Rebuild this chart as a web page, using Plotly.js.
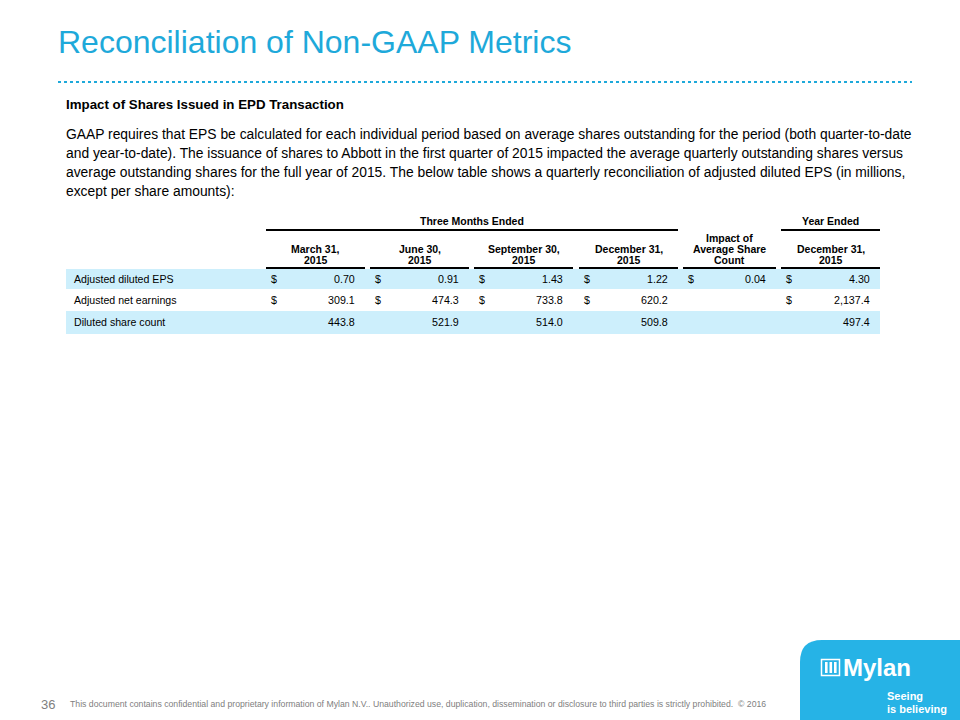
<!DOCTYPE html>
<html>
<head>
<meta charset="utf-8">
<script src="https://cdn.plot.ly/plotly-3.0.1.min.js"></script>
<style>
  html, body { margin: 0; padding: 0; background: #ffffff; }
  #chart { width: 960px; height: 720px; }
</style>
</head>
<body>
<div id="chart"></div>
<script>
// ---------------- DATA ----------------
const slideTitle = "Reconciliation of Non-GAAP Metrics";
const sectionHeading = "Impact of Shares Issued in EPD Transaction";
const paragraphLines = [
  "GAAP requires that EPS be calculated for each individual period based on average shares outstanding for the period (both quarter-to-date",
  "and year-to-date). The issuance of shares to Abbott in the first quarter of 2015 impacted the average quarterly outstanding shares versus",
  "average outstanding shares for the full year of 2015. The below table shows a quarterly reconciliation of adjusted diluted EPS (in millions,",
  "except per share amounts):"
];
const groupHeaders = ["Three Months Ended", "Year Ended"];
const columnHeaders = [
  ["March 31,", "2015"],
  ["June 30,", "2015"],
  ["September 30,", "2015"],
  ["December 31,", "2015"],
  ["Impact of", "Average Share", "Count"],
  ["December 31,", "2015"]
];
const rowLabels = ["Adjusted diluted EPS", "Adjusted net earnings", "Diluted share count"];
const adjustedDilutedEPS   = [0.70, 0.91, 1.43, 1.22, 0.04, 4.30];
const adjustedNetEarnings  = [309.1, 474.3, 733.8, 620.2, null, 2137.4];
const dilutedShareCount    = [443.8, 521.9, 514.0, 509.8, null, 497.4];
const rowDecimals = [2, 1, 1];
const rowHasDollar = [true, true, false];
const pageNumber = "36";
const disclaimer = "This document contains confidential and proprietary information of Mylan N.V.. Unauthorized use, duplication, dissemination or disclosure to third parties is strictly prohibited.  © 2016";
const logoName = "Mylan";
const logoTagline = ["Seeing", "is believing"];

// ---------------- LAYOUT CONSTANTS ----------------
const BLUE = "#1ea9da";
const BAND = "#cdeffc";
const FONT = "Liberation Sans, Arial, sans-serif";
const colLeft  = [266, 370, 474, 579, 683, 781];
const colRight = [365, 469, 573, 678, 776, 880];
const groupSpan = [[0, 3], [5, 5]];
const rowY = [279, 300, 322];
const rowBand = [[269, 289], null, [311, 334]];
const tableLeft = 66, tableRight = 880;

const rows = [adjustedDilutedEPS, adjustedNetEarnings, dilutedShareCount];

function fmt(v, d) {
  return v.toLocaleString("en-US", { minimumFractionDigits: d, maximumFractionDigits: d });
}

const annotations = [];
const shapes = [];

function txt(x, y, text, opts) {
  annotations.push(Object.assign({
    xref: "x", yref: "y", x: x, y: y, text: text, showarrow: false,
    xanchor: "left", yanchor: "middle",
    font: { family: FONT, size: 11, color: "#000" }
  }, opts));
}

// Title
txt(56, 42, slideTitle, { font: { family: FONT, size: 32, color: BLUE } });
// dotted rule
shapes.push({ type: "line", xref: "x", yref: "y", x0: 58, x1: 912, y0: 82, y1: 82,
  line: { color: BLUE, width: 2, dash: "dot" } });

// Heading + paragraph
txt(64, 104, "<b>" + sectionHeading + "</b>", { font: { family: FONT, size: 13.3, color: "#000" } });
paragraphLines.forEach((l, i) => {
  txt(64, 134 + i * 19, l, { font: { family: FONT, size: 13.85, color: "#000" } });
});

// Group headers
groupHeaders.forEach((g, i) => {
  const a = colLeft[groupSpan[i][0]], b = colRight[groupSpan[i][1]];
  txt((a + b) / 2, 221, "<b>" + g + "</b>", { xanchor: "center", font: { family: FONT, size: 10.5, color: "#000" } });
  shapes.push({ type: "line", xref: "x", yref: "y", x0: a, x1: b, y0: 230, y1: 230,
    line: { color: "#000", width: 2 } });
});

// Column headers
columnHeaders.forEach((lines, c) => {
  const cx = (colLeft[c] + colRight[c]) / 2;
  const n = lines.length;
  lines.forEach((l, k) => {
    txt(cx, 260 - (n - 1 - k) * 11, "<b>" + l + "</b>", { xanchor: "center", font: { family: FONT, size: 10.5, color: "#000" } });
  });
  shapes.push({ type: "line", xref: "x", yref: "y", x0: colLeft[c], x1: colRight[c], y0: 268, y1: 268,
    line: { color: "#000", width: 2 } });
});

// Row bands
rowBand.forEach(b => {
  if (!b) return;
  shapes.push({ type: "rect", xref: "x", yref: "y", x0: tableLeft, x1: tableRight, y0: b[0], y1: b[1],
    fillcolor: BAND, line: { width: 0 }, layer: "below" });
});

// Rows
rowLabels.forEach((lab, r) => {
  txt(72, rowY[r], lab, { font: { family: FONT, size: 10.6, color: "#000" } });
  rows[r].forEach((v, c) => {
    if (v === null || v === undefined) return;
    if (rowHasDollar[r]) txt(colLeft[c] + 3, rowY[r], "$", { font: { family: FONT, size: 10.7, color: "#000" } });
    txt(colRight[c] - 8, rowY[r], fmt(v, rowDecimals[r]), { xanchor: "right", font: { family: FONT, size: 10.7, color: "#000" } });
  });
});

// Footer
txt(39, 704, pageNumber, { font: { family: FONT, size: 13, color: "#808080" } });
txt(68, 704, disclaimer, { font: { family: FONT, size: 8.7, color: "#808080" } });

// Logo panel
shapes.push({ type: "path", xref: "x", yref: "y",
  path: "M 800 720 L 800 662 Q 800 640 822 640 L 960 640 L 960 720 Z",
  fillcolor: "#26b3e6", line: { width: 0 } });
shapes.push({ type: "rect", xref: "x", yref: "y", x0: 821.5, x1: 839.5, y0: 659.5, y1: 675.5,
  line: { color: "#fff", width: 1.5 } });
[825, 829.5, 834].forEach(bx => {
  shapes.push({ type: "rect", xref: "x", yref: "y", x0: bx, x1: bx + 2.6, y0: 662, y1: 673,
    fillcolor: "#fff", line: { width: 0 } });
});
txt(841, 667, "<b>" + logoName + "</b>", { font: { family: FONT, size: 24, color: "#fff" } });
logoTagline.forEach((t, i) => {
  txt(885, 696 + i * 13, "<b>" + t + "</b>", { font: { family: FONT, size: 11, color: "#fff" } });
});

const layout = {
  width: 960, height: 720,
  margin: { l: 0, r: 0, t: 0, b: 0, pad: 0 },
  paper_bgcolor: "#ffffff", plot_bgcolor: "#ffffff",
  showlegend: false,
  xaxis: { range: [0, 960], visible: false, fixedrange: true },
  yaxis: { range: [720, 0], visible: false, fixedrange: true },
  annotations: annotations,
  shapes: shapes
};

Plotly.newPlot("chart", [{ x: [], y: [], type: "scatter", mode: "markers", hoverinfo: "skip" }], layout, { staticPlot: true, displayModeBar: false });
</script>
</body>
</html>
